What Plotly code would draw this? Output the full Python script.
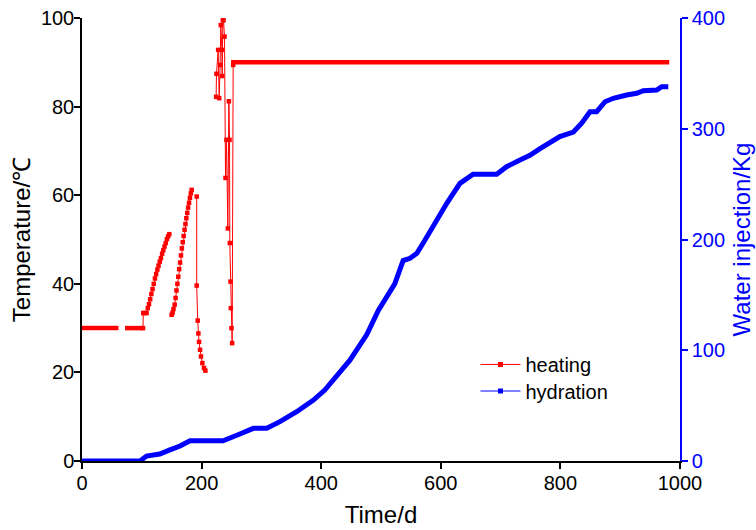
import plotly.graph_objects as go

# ---- heating (temperature, left axis) ----
# flat plateaus (drawn as dense marker band)
heat_flat_x = [0, 61, None, 72, 102, None, 253, 982]
heat_flat_y = [30, 30, None, 30, 30, None, 90, 90]

# varying parts, None = gap
heat_x = [102, 102.4, 105, 108, 110, 112, 114, 116, 118, 120, 122, 124, 126, 128,
          130, 132, 134, 136, 138, 140, 142, 144, 146,
          None,
          149.9, 151.5, 153, 155, 156.5, 158, 159.5, 161, 162.5, 164, 165.5, 167,
          168.5, 170, 171.5, 173, 174.5, 176, 177.5, 179, 180.5, 182, 183.4,
          None,
          191.8, 191.8, 193.5, 194.6, 195.7, 197.4, 199, 201.3, 204, 206.3,
          None,
          224.3, 224.9, 227.7, 229.4, 231, 232.1, 233.9, 234.4, 235.5, 236.6, 238.3,
          240, 241.6, 243.9, 245.6, 246.7, 247.2, 248.4, 248.9, 250, 251.1, 252.8, 253]
heat_y = [30, 33.4, 33.4, 33.4, 34.5, 35.4, 36.5, 37.7, 38.8, 40.0, 41.2, 42.2, 43.2, 44.1,
          45.0, 45.8, 46.8, 47.6, 48.4, 49.2, 50.1, 50.7, 51.2,
          None,
          33.0, 33.5, 34.3, 35.3, 36.8, 38.5, 40.0, 41.6, 43.3, 44.8, 46.4, 48.0,
          49.4, 50.8, 52.2, 53.5, 54.8, 56.0, 57.2, 58.3, 59.4, 60.4, 61.2,
          None,
          59.7, 39.6, 31.7, 28.8, 26.9, 25.1, 23.6, 22.1, 21.0, 20.4,
          None,
          82.2, 87.4, 92.8, 81.9, 89.4, 98.4, 92.8, 86.9, 99.5, 99.5, 95.8,
          63.9, 72.5, 52.5, 81.2, 72.5, 49.2, 40.5, 34.5, 30.0, 26.6, 89.4, 90]

# ---- hydration (water injection, right axis) ----
hyd_x = [0, 97, 108, 130, 147, 164, 180.6, 236, 264, 286.5, 309, 331, 359, 387,
         406, 420, 448, 476, 495.5, 523, 537, 548.5, 560, 573.6, 587.5, 610, 632,
         654, 693.5, 710, 732.4, 749, 766, 799, 821.6, 835.6, 849.5, 860.7, 874.6,
         888.5, 910.9, 927.6, 938.6, 961, 969.4, 980.4]
hyd_y = [0, 0, 4.5, 6.3, 10, 13.5, 18.3, 18.3, 24.4, 29.5, 29.5, 35.5, 44.5, 55,
         64, 73, 91, 114, 136, 160, 181, 183, 187.5, 199.5, 213, 232.7, 250.7,
         259, 259, 265.7, 271.8, 276, 282, 293, 297, 305, 315.4, 315.4, 324.4,
         327.5, 330.5, 332, 334.4, 335, 338, 338]

RED = "#ff0000"
BLUE = "#0000ff"
FONT = "Liberation Sans, Arial, sans-serif"

fig = go.Figure()

fig.add_trace(go.Scatter(x=heat_flat_x, y=heat_flat_y, mode="lines",
                         line=dict(color=RED, width=4.5), showlegend=False,
                         hoverinfo="skip"))
fig.add_trace(go.Scatter(x=heat_x, y=heat_y, mode="lines+markers",
                         line=dict(color=RED, width=1),
                         marker=dict(symbol="square", size=4.5, color=RED),
                         connectgaps=False, showlegend=False))
fig.add_trace(go.Scatter(x=hyd_x, y=hyd_y, mode="lines", yaxis="y2",
                         line=dict(color=BLUE, width=5), showlegend=False))

# legend entries
fig.add_trace(go.Scatter(x=[None], y=[None], mode="lines+markers", name="heating",
                         line=dict(color=RED, width=1), legend="legend",
                         marker=dict(symbol="square", size=5, color=RED)))
fig.add_trace(go.Scatter(x=[None], y=[None], mode="lines+markers", name="hydration",
                         yaxis="y2", legend="legend2",
                         line=dict(color=BLUE, width=1),
                         marker=dict(symbol="square", size=5, color=BLUE)))

leg_common = dict(xanchor="left", yanchor="top", bgcolor="rgba(0,0,0,0)",
                  font=dict(size=20, color="black"), itemwidth=40)

fig.update_layout(
    width=756, height=530,
    margin=dict(l=82, r=76, t=18, b=69),
    paper_bgcolor="white", plot_bgcolor="white",
    font=dict(family=FONT, size=20, color="black"),
    showlegend=True,
    legend=dict(x=0.658, y=0.262, **leg_common),
    legend2=dict(x=0.658, y=0.202, **leg_common),
    xaxis=dict(range=[0, 1000], tickvals=[0, 200, 400, 600, 800, 1000],
               showgrid=False, zeroline=False, showline=True, linecolor="black",
               linewidth=1.5, ticks="outside", ticklen=6, tickwidth=1.5,
               tickcolor="black", automargin=False, ticklabelstandoff=-3,
               title=dict(text="Time/d", standoff=13)),
    yaxis=dict(range=[0, 100], tickvals=[0, 20, 40, 60, 80, 100],
               showgrid=False, zeroline=False, showline=True, linecolor="black",
               linewidth=1.5, ticks="outside", ticklen=6, tickwidth=1.5,
               tickcolor="black", automargin=False, ticklabelstandoff=-4,
               title=dict(text="Temperature/℃", standoff=3)),
    yaxis2=dict(range=[0, 400], tickvals=[0, 100, 200, 300, 400], overlaying="y",
                side="right", showgrid=False, zeroline=False, showline=True,
                linecolor=BLUE, linewidth=1.5, ticks="outside", ticklen=6,
                tickwidth=1.5, tickcolor=BLUE, tickfont=dict(color=BLUE),
                automargin=False,
                title=dict(text="Water injection/Kg", font=dict(color=BLUE),
                           standoff=9)),
)

# remove the default 8px page margin so the figure fills the window exactly
fig.write_html("out.html", config={"displayModeBar": False},
               post_script=["document.body.style.margin='0px';"])
